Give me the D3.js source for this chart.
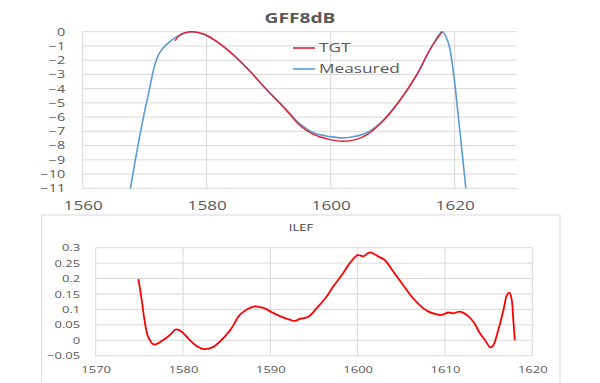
<!DOCTYPE html>
<html><head><meta charset="utf-8">
<script src="https://cdn.jsdelivr.net/npm/d3@7"></script>
<style>
body{margin:0;background:#fff;}
svg text{font-family:"Open Sans",sans-serif;fill:#595959;}
</style></head>
<body><svg id="c" width="600" height="383"></svg>
<script>
// ---- Data ----
const topTicksX = [1560, 1580, 1600, 1620];
const topTicksY = [0,-1,-2,-3,-4,-5,-6,-7,-8,-9,-10,-11];
const measuredWl = [1567.7,1568.7,1569.8,1570.85,1571.5,1572.2,1573.0,1574.1,1575.2,1576.2,1577.7,1579.5,1581.6,1584.3,1587,1589.7,1592.4,1595.1,1597.2,1599.9,1602,1604,1605.8,1608.5,1611.2,1613.9,1616,1618,1619,1619.8,1620.6,1621.8];
const measuredDb = [-11,-8.5,-6.0,-3.86,-2.55,-1.65,-1.12,-0.68,-0.35,-0.12,0,-0.18,-0.7,-1.64,-2.8,-4.1,-5.27,-6.5,-7.1,-7.37,-7.47,-7.35,-7.1,-6.2,-4.8,-3.04,-1.29,0,-0.82,-2.9,-6.0,-11];
const tgtWl = [1574.9,1575.5,1576.3,1577.7,1579.5,1581.6,1584.3,1587,1589.7,1592.4,1595.1,1597.2,1599.9,1602,1604,1605.8,1608.5,1611.2,1613.9,1616,1618];
const tgtDb = [-0.65,-0.3,-0.1,0,-0.16,-0.68,-1.62,-2.78,-4.08,-5.3,-6.6,-7.22,-7.58,-7.7,-7.58,-7.25,-6.25,-4.8,-3.0,-1.25,0];
const botTicksX = [1570,1580,1590,1600,1610,1620];
const botTicksY = [-0.05,0,0.05,0.1,0.15,0.2,0.25,0.3];
const ilefWl = [1574.9,1575.27,1575.65,1576.0,1576.6,1577.0,1577.75,1578.5,1579.2,1579.85,1580.6,1581.4,1582.3,1583.3,1584.2,1585.4,1586.5,1587.3,1588.2,1589.2,1590.3,1591.3,1592.3,1592.8,1593.4,1594.35,1595.3,1596.3,1597.2,1598.2,1599.1,1600,1600.65,1601.4,1602.4,1603.1,1604.1,1605.2,1606.2,1607.1,1608.1,1609.1,1609.6,1610.4,1610.9,1611.7,1612.5,1613.25,1614.0,1614.6,1615.2,1615.55,1616.1,1616.7,1617.1,1617.4,1617.65,1617.8,1618.0];
const ilefVal = [0.198,0.13,0.055,0.012,-0.013,-0.012,0.001,0.017,0.035,0.028,0.006,-0.015,-0.028,-0.024,-0.005,0.033,0.082,0.1,0.11,0.105,0.089,0.076,0.066,0.063,0.069,0.076,0.104,0.136,0.174,0.212,0.25,0.276,0.272,0.285,0.271,0.26,0.222,0.179,0.141,0.114,0.093,0.084,0.082,0.09,0.087,0.093,0.082,0.06,0.023,0.0,-0.023,-0.015,0.033,0.098,0.147,0.154,0.13,0.076,0.0];

const SX = 1.37; // horizontal stretch of text in the reference
const grid = "#d9d9d9";
const svg = d3.select("#c");

function stretch(sel){ sel.attr("transform", function(){ const t=d3.select(this).attr("transform")||""; return t+" scale("+SX+",1)"; }); }

// ---- Top chart ----
const xT = d3.scaleLinear([1560,1630],[82.7,516.7]);
const yT = d3.scaleLinear([-11,0],[188.3,31.7]);
const gT = svg.append("g");
gT.append("g").selectAll("line").data(topTicksY).join("line")
  .attr("x1",xT(1560)).attr("x2",xT(1630)).attr("y1",d=>yT(d)).attr("y2",d=>yT(d))
  .attr("stroke",grid).attr("stroke-width",1);
gT.append("g").selectAll("line").data(topTicksX).join("line")
  .attr("x1",d=>xT(d)).attr("x2",d=>xT(d)).attr("y1",yT(0)).attr("y2",yT(-11))
  .attr("stroke",grid).attr("stroke-width",1);
const axYT = gT.append("g").attr("transform",`translate(${xT(1560)},0)`)
  .call(d3.axisLeft(yT).tickValues(topTicksY).tickSize(0).tickPadding(0).tickFormat(d3.format("d")));
axYT.select(".domain").remove();
axYT.selectAll("text").attr("x",-17.5/SX).attr("font-size",10.5);
stretch(axYT.selectAll("text"));
const axXT = gT.append("g").attr("transform",`translate(0,206)`)
  .call(d3.axisBottom(xT).tickValues(topTicksX).tickSize(0).tickPadding(0).tickFormat(d3.format("d")));
axXT.select(".domain").remove();
axXT.selectAll("text").attr("y",0).attr("dy","0.35em").attr("font-size",12.5);
stretch(axXT.selectAll("text"));

const lineT = d3.line().x(d=>xT(d[0])).y(d=>yT(d[1])).curve(d3.curveCatmullRom);
gT.append("path").datum(measuredWl.map((w,i)=>[w,measuredDb[i]]))
  .attr("d",lineT).attr("fill","none").attr("stroke","#5B9BD5").attr("stroke-width",1.6);
gT.append("path").datum(tgtWl.map((w,i)=>[w,tgtDb[i]]))
  .attr("d",lineT).attr("fill","none").attr("stroke","#E8202A").attr("stroke-width",1.4);

svg.append("text").attr("transform",`translate(300,18.5) scale(${SX},1)`).attr("text-anchor","middle")
  .attr("dy","0.35em").attr("font-size",14).attr("font-weight","bold").style("fill","#595959").text("GFF8dB");

// legend
const leg = [{n:"TGT",c:"#E8202A",y:48},{n:"Measured",c:"#5B9BD5",y:69}];
leg.forEach(l=>{
  svg.append("line").attr("x1",293).attr("x2",315).attr("y1",l.y).attr("y2",l.y).attr("stroke",l.c).attr("stroke-width",1.6);
  svg.append("text").attr("transform",`translate(319,${l.y}) scale(${SX},1)`).attr("dy","0.35em")
    .attr("font-size",12.6).text(l.n);
});

// ---- Bottom chart ----
svg.append("rect").attr("x",41.7).attr("y",215).attr("width",518.3).attr("height",180)
  .attr("fill","none").attr("stroke",grid).attr("stroke-width",1);
const xB = d3.scaleLinear([1570,1620],[95.7,532.3]);
const yB = d3.scaleLinear([-0.05,0.3],[355.7,247.7]);
const gB = svg.append("g");
gB.append("g").selectAll("line").data(botTicksY).join("line")
  .attr("x1",xB(1570)).attr("x2",xB(1620)).attr("y1",d=>yB(d)).attr("y2",d=>yB(d))
  .attr("stroke",grid).attr("stroke-width",1);
gB.append("g").selectAll("line").data(botTicksX).join("line")
  .attr("x1",d=>xB(d)).attr("x2",d=>xB(d)).attr("y1",yB(0.3)).attr("y2",yB(-0.05))
  .attr("stroke",grid).attr("stroke-width",1);
const axYB = gB.append("g").attr("transform",`translate(${xB(1570)},0)`)
  .call(d3.axisLeft(yB).tickValues(botTicksY).tickSize(0).tickPadding(0).tickFormat(d=>d3.format("~g")(+d.toFixed(2))));
axYB.select(".domain").remove();
axYB.selectAll("text").attr("x",-15.5/SX).attr("font-size",9.5);
stretch(axYB.selectAll("text"));
const axXB = gB.append("g").attr("transform",`translate(0,370)`)
  .call(d3.axisBottom(xB).tickValues(botTicksX).tickSize(0).tickPadding(0).tickFormat(d3.format("d")));
axXB.select(".domain").remove();
axXB.selectAll("text").attr("y",0).attr("dy","0.35em").attr("font-size",9.5);
stretch(axXB.selectAll("text"));

const lineB = d3.line().x(d=>xB(d[0])).y(d=>yB(d[1])).curve(d3.curveCatmullRom);
gB.append("path").datum(ilefWl.map((w,i)=>[w,ilefVal[i]]))
  .attr("d",lineB).attr("fill","none").attr("stroke","#FF0000").attr("stroke-width",1.8).attr("stroke-linejoin","round");

svg.append("text").attr("transform",`translate(301,228) scale(${SX},1)`).attr("text-anchor","middle")
  .attr("dy","0.35em").attr("font-size",9.5).style("fill","#404040").text("ILEF");
</script></body></html>
